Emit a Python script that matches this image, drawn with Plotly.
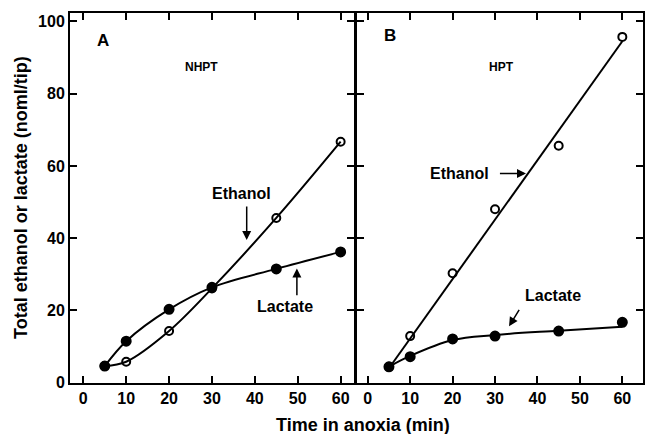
import plotly.graph_objects as go

# ---- data ----
time_min = [5, 10, 20, 30, 45, 60]
ethanol_nhpt = [4.6, 5.8, 14.3, 26.1, 45.6, 66.7]
lactate_nhpt = [4.6, 11.5, 20.3, 26.4, 31.5, 36.2]
ethanol_hpt = [4.4, 12.9, 30.3, 48.0, 65.6, 95.7]
lactate_hpt = [4.4, 7.2, 12.1, 12.9, 14.3, 16.7]

# fitted curves drawn in the original
fit_eth_hpt_x = [5, 60]
fit_eth_hpt_y = [4.0, 94.5]
fit_lac_hpt_x = [5, 10, 20, 30, 45, 60]
fit_lac_hpt_y = [4.4, 7.4, 11.8, 13.2, 14.4, 15.5]

x_ticks = [0, 10, 20, 30, 40, 50, 60]
y_ticks = [0, 20, 40, 60, 80, 100]

FONT = "Liberation Sans, Arial, sans-serif"
BLACK = "black"

fig = go.Figure()

def add_curve(x, y, xa, ya):
    fig.add_trace(go.Scatter(x=x, y=y, mode="lines", xaxis=xa, yaxis=ya,
                             line=dict(color=BLACK, width=2, shape="spline", smoothing=1.0),
                             showlegend=False, hoverinfo="skip"))

def add_pts(x, y, xa, ya, filled):
    fig.add_trace(go.Scatter(x=x, y=y, mode="markers", xaxis=xa, yaxis=ya,
                             marker=dict(symbol="circle" if filled else "circle-open",
                                         size=9 if filled else 8, color=BLACK,
                                         line=dict(color=BLACK, width=2)),
                             showlegend=False))

# Panel A
add_curve(time_min, ethanol_nhpt, "x", "y")
add_curve(time_min, lactate_nhpt, "x", "y")
add_pts(time_min, lactate_nhpt, "x", "y", True)
add_pts(time_min, ethanol_nhpt, "x", "y", False)

# Panel B
fig.add_trace(go.Scatter(x=fit_eth_hpt_x, y=fit_eth_hpt_y, mode="lines", xaxis="x2", yaxis="y2",
                         line=dict(color=BLACK, width=2), showlegend=False, hoverinfo="skip"))
add_curve(fit_lac_hpt_x, fit_lac_hpt_y, "x2", "y2")
add_pts(time_min, lactate_hpt, "x2", "y2", True)
add_pts(time_min, ethanol_hpt, "x2", "y2", False)

W, H = 646, 434
xdomA = [70 / W, 353.5 / W]
xdomB = [356.7 / W, 642.7 / W]
ydom = [1 - 382.7 / H, 1 - 12.7 / H]
yrange = [0, 102.4]

tickfont = dict(family=FONT, size=16, color=BLACK, weight="bold")

common = dict(ticks="inside", ticklen=7, tickwidth=1.5, tickcolor=BLACK,
              showline=True, linecolor=BLACK, linewidth=2, mirror="ticks",
              showgrid=False, zeroline=False, tickfont=tickfont, automargin=False)

fig.update_layout(
    width=W, height=H,
    margin=dict(l=0, r=0, t=0, b=0),
    paper_bgcolor="white", plot_bgcolor="white",
    xaxis=dict(domain=xdomA, range=[-3.1, 63.0], anchor="y", tickvals=x_ticks, **common),
    xaxis2=dict(domain=xdomB, range=[-2.6, 64.8], anchor="y2", tickvals=x_ticks, **common),
    yaxis=dict(domain=ydom, range=yrange, anchor="x", tickvals=y_ticks, **common),
    yaxis2=dict(domain=ydom, range=yrange, anchor="x2", tickvals=y_ticks,
                showticklabels=False, **common),
)

def label(text, x, y, xa, ya, size=16):
    fig.add_annotation(text=f"<b>{text}</b>", x=x, y=y, xref=xa, yref=ya, showarrow=False,
                       xanchor="center", yanchor="middle",
                       font=dict(family=FONT, size=size, color=BLACK))

def arrow(x0, y0, x1, y1, xa, ya):
    fig.add_annotation(x=x1, y=y1, ax=x0, ay=y0, xref=xa, yref=ya, axref=xa, ayref=ya,
                       text="", showarrow=True, arrowhead=2, arrowsize=1.2, arrowwidth=1.5,
                       arrowcolor=BLACK)

# Panel A labels
label("A", 4.6, 94.6, "x", "y", 17)
label("NHPT", 27.5, 87.4, "x", "y", 12)
label("Ethanol", 37.0, 52.4, "x", "y", 16)
arrow(38.1, 49.2, 38.1, 39.5, "x", "y")
label("Lactate", 47.1, 21.0, "x", "y", 16)
arrow(49.8, 23.8, 49.8, 31.6, "x", "y")

# Panel B labels
label("B", 5.25, 96.2, "x2", "y2", 17)
label("HPT", 31.6, 87.4, "x2", "y2", 12)
label("Ethanol", 21.7, 57.9, "x2", "y2", 16)
arrow(30.8, 57.9, 37.3, 57.9, "x2", "y2")
label("Lactate", 43.7, 24.1, "x2", "y2", 16)
arrow(35.9, 20.6, 33.3, 15.6, "x2", "y2")

# shared x title
fig.add_annotation(text="<b>Time in anoxia (min)</b>", x=363 / W, y=1 - 425 / H,
                   xref="paper", yref="paper", showarrow=False,
                   xanchor="center", yanchor="middle",
                   font=dict(family=FONT, size=18, color=BLACK))
# y title
fig.add_annotation(text="<b>Total ethanol or lactate (noml/tip)</b>", x=21 / W, y=1 - 198 / H,
                   xref="paper", yref="paper", showarrow=False, textangle=-90,
                   xanchor="center", yanchor="middle",
                   font=dict(family=FONT, size=18, color=BLACK))

fig.write_html("out.html")
